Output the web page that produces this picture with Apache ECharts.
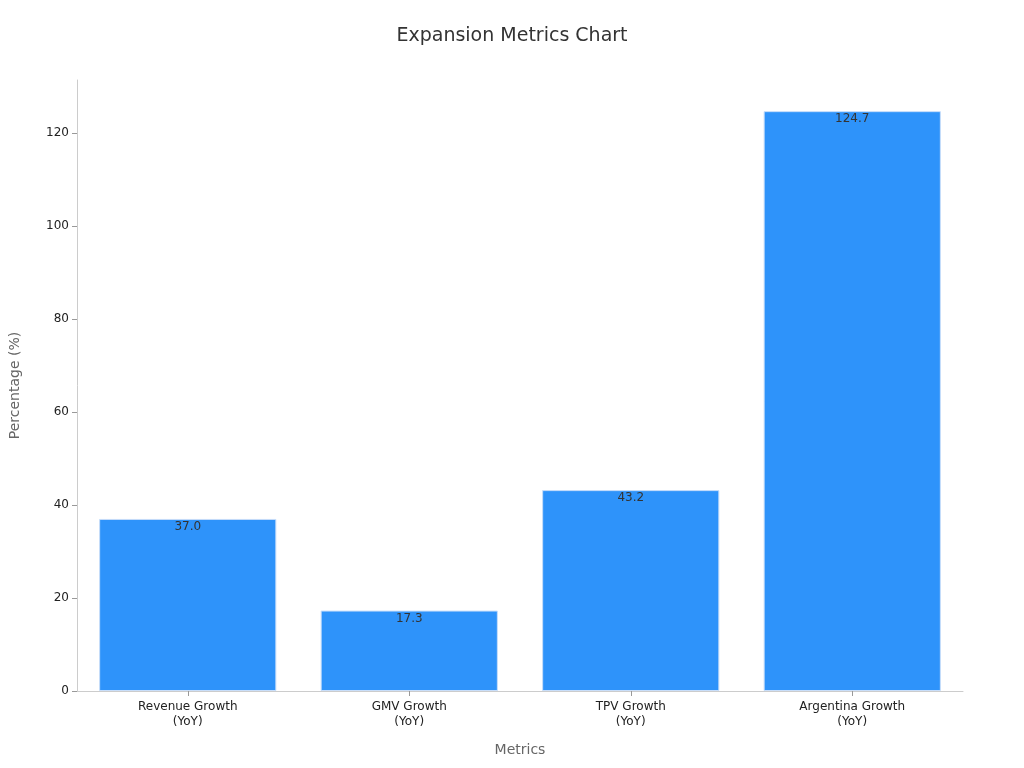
<!DOCTYPE html>
<html><head><meta charset="utf-8">
<script src="https://cdn.jsdelivr.net/npm/echarts@6/dist/echarts.min.js"></script>
<style>html,body{margin:0;padding:0;background:#fff}#c{width:1024px;height:768px}</style>
</head><body><div id="c"></div>
<script>
const categories = ["Revenue Growth\n(YoY)", "GMV Growth\n(YoY)", "TPV Growth\n(YoY)", "Argentina Growth\n(YoY)"];
const values = [37.0, 17.3, 43.2, 124.7];
const chart = echarts.init(document.getElementById('c'));
chart.setOption({
  animation: false,
  textStyle: {fontFamily: 'DejaVu Sans'},
  title: {text: 'Expansion Metrics Chart', left: 'center', top: 22,
    textStyle: {fontSize: 19, fontWeight: 'normal', color: '#333', fontFamily: 'DejaVu Sans'}},
  grid: {left: 68, right: 61, top: 80, bottom: 77},
  xAxis: {type: 'category', data: categories, name: 'Metrics', nameLocation: 'middle', nameGap: 52,
    nameTextStyle: {fontSize: 14, color: '#666'},
    axisLine: {lineStyle: {color: '#ccc'}}, axisTick: {show: true, alignWithLabel: true, lineStyle: {color: '#999'}},
    axisLabel: {color: '#222', fontSize: 12, lineHeight: 15}},
  yAxis: {type: 'value', min: 0, max: 131.4, interval: 20, name: 'Percentage (%)', nameLocation: 'middle', nameGap: 55,
    nameTextStyle: {fontSize: 14, color: '#666'},
    axisLine: {show: true, lineStyle: {color: '#ccc'}}, axisTick: {show: true, lineStyle: {color: '#999'}},
    splitLine: {show: false},
    axisLabel: {color: '#222', fontSize: 12, showMaxLabel: false}},
  series: [{type: 'bar', data: values, barCategoryGap: '20%',
    itemStyle: {color: '#2e93fa', borderColor: '#c8defa', borderWidth: 1},
    label: {show: true, position: 'insideTop', offset: [0, -3], color: '#333', fontSize: 12,
      formatter: p => p.value.toFixed(1)}}]
});
</script></body></html>
